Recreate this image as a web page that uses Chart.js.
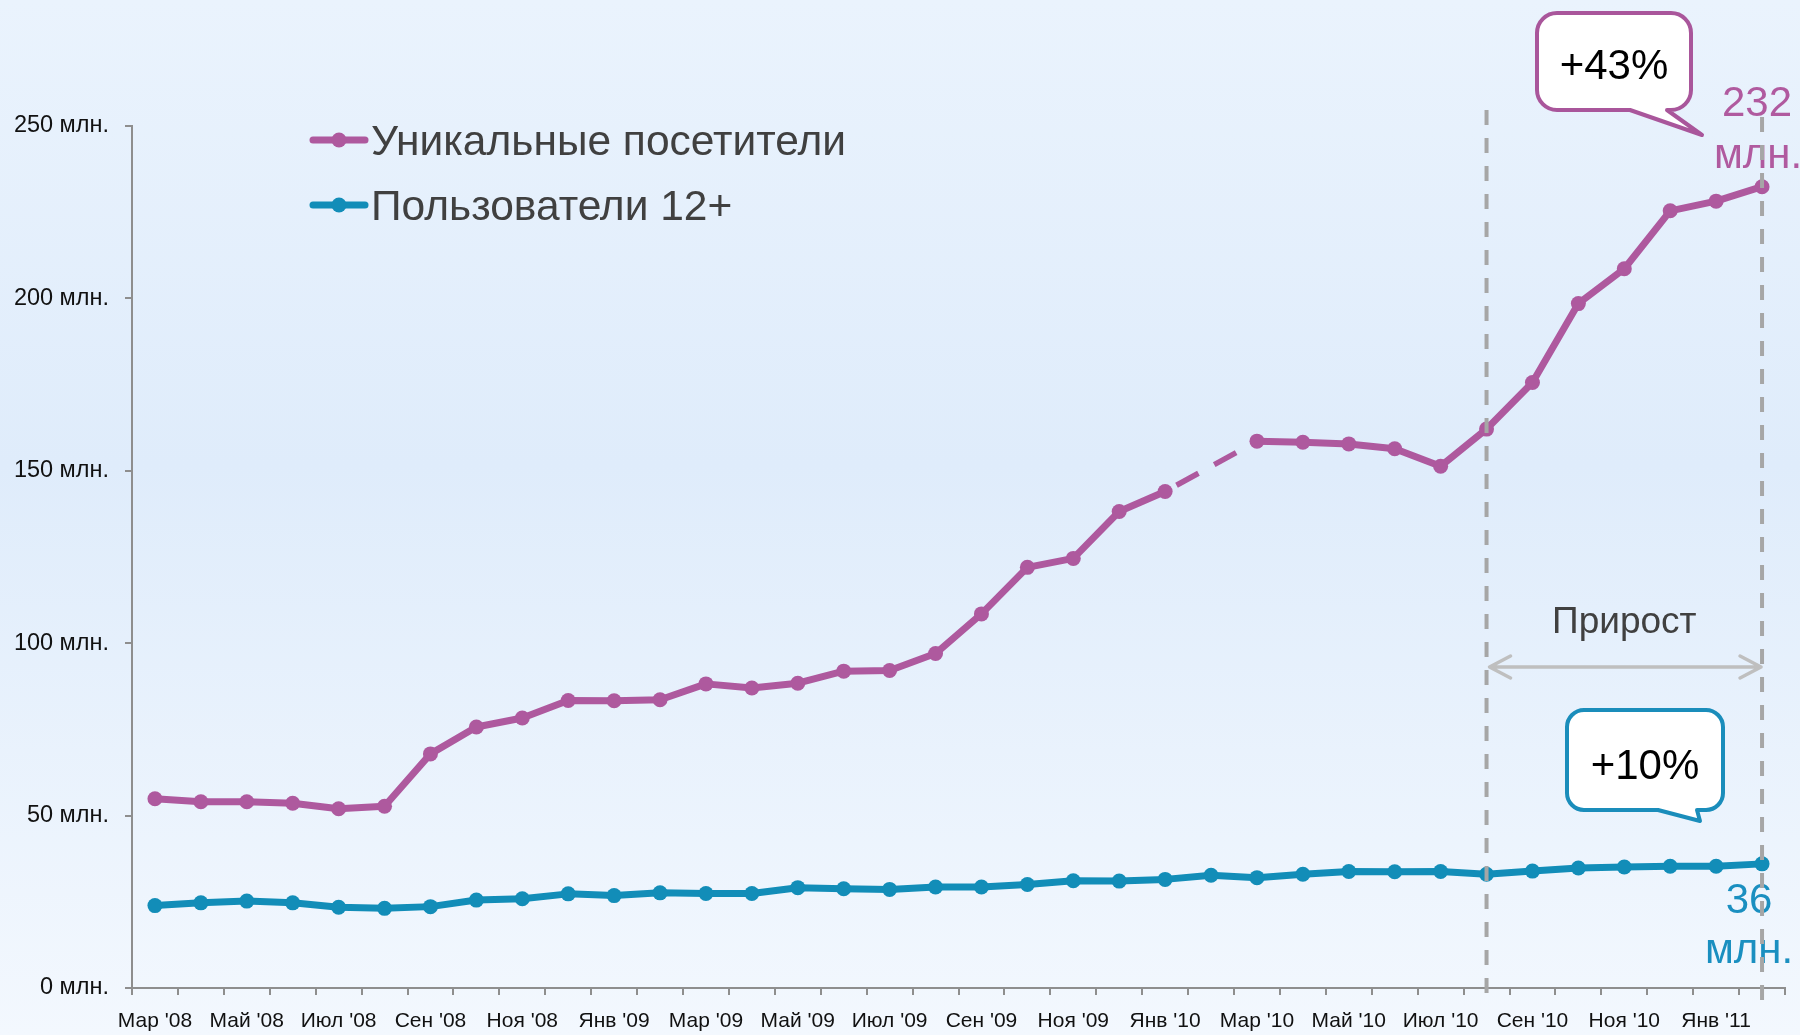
<!DOCTYPE html>
<html>
<head>
<meta charset="utf-8">
<script src="https://cdn.jsdelivr.net/npm/chart.js@4/dist/chart.umd.min.js"></script>
<style>
  html, body { margin: 0; padding: 0; background: #e6f0fc; }
  #wrap { width: 1800px; height: 1035px; }
  canvas { display: block; }
</style>
</head>
<body>
<div id="wrap"><canvas id="c" width="1800" height="1035"></canvas></div>
<script>
// ---- data ----
const categories = [
  "Мар '08","Апр '08","Май '08","Июн '08","Июл '08","Авг '08","Сен '08","Окт '08","Ноя '08","Дек '08",
  "Янв '09","Фев '09","Мар '09","Апр '09","Май '09","Июн '09","Июл '09","Авг '09","Сен '09","Окт '09",
  "Ноя '09","Дек '09","Янв '10","Фев '10","Мар '10","Апр '10","Май '10","Июн '10","Июл '10","Авг '10",
  "Сен '10","Окт '10","Ноя '10","Дек '10","Янв '11","Фев '11"
];
const seriesNames = ["Уникальные посетители", "Пользователи 12+"];
const uniqueVisitors = [
  54.9, 54.0, 54.0, 53.6, 52.0, 52.7, 67.9, 75.7, 78.3, 83.4,
  83.3, 83.6, 88.2, 87.0, 88.4, 91.9, 92.1, 97.0, 108.5, 122.0,
  124.6, 138.2, 144.0, null, 158.6, 158.3, 157.8, 156.4, 151.3, 162.1,
  175.6, 198.5, 208.6, 225.4, 228.2, 232.4
];
const users12plus = [
  23.9, 24.7, 25.2, 24.7, 23.4, 23.1, 23.6, 25.5, 25.9, 27.3,
  26.8, 27.6, 27.4, 27.4, 29.1, 28.8, 28.6, 29.3, 29.3, 30.0,
  31.1, 31.0, 31.5, 32.7, 32.0, 33.0, 33.8, 33.7, 33.8, 33.0,
  33.9, 34.8, 35.1, 35.3, 35.3, 36.0
];
const yTicks = [0, 50, 100, 150, 200, 250];
const yUnit = " млн.";
const growthLabel = "Прирост";
const growthStartIndex = 29;   // Авг '10
const growthEndIndex = 35;     // Фев '11
const calloutTexts = ["+43%", "+10%"];

// ---- styles ----
const FONT = "'Liberation Sans', Arial, sans-serif";
const PURPLE = "#ae599e";
const BLUE = "#128db8";
const AXIS = "#8e8e8e";

const bgPlugin = {
  id: 'bg',
  beforeDraw(chart) {
    const ctx = chart.ctx;
    const g = ctx.createLinearGradient(0, 0, 0, chart.height);
    g.addColorStop(0, '#eaf3fd');
    g.addColorStop(0.45, '#dfecfb');
    g.addColorStop(1, '#f3f8fe');
    ctx.save();
    ctx.fillStyle = g;
    ctx.fillRect(0, 0, chart.width, chart.height);
    ctx.restore();
  }
};

const legendPlugin = {
  id: 'customLegend',
  afterDraw(chart) {
    const ctx = chart.ctx;
    ctx.save();
    chart.data.datasets.forEach((ds, i) => {
      const cy = 140 + i * 65;
      ctx.strokeStyle = ds.borderColor;
      ctx.lineWidth = 7;
      ctx.lineCap = 'round';
      ctx.beginPath();
      ctx.moveTo(313, cy);
      ctx.lineTo(365, cy);
      ctx.stroke();
      ctx.fillStyle = ds.borderColor;
      ctx.beginPath();
      ctx.arc(339, cy, 7.5, 0, Math.PI * 2);
      ctx.fill();
      ctx.fillStyle = '#404040';
      ctx.font = '42.5px ' + FONT;
      ctx.textAlign = 'left';
      ctx.textBaseline = 'alphabetic';
      ctx.fillText(ds.label, 371, cy + 15);
    });
    ctx.restore();
  }
};

function callout(ctx, x1, y1, x2, y2, r, baseRight, baseLeft, tipX, tipY, color) {
  ctx.beginPath();
  ctx.moveTo(x1 + r, y1);
  ctx.lineTo(x2 - r, y1);
  ctx.arcTo(x2, y1, x2, y1 + r, r);
  ctx.lineTo(x2, y2 - r);
  ctx.arcTo(x2, y2, x2 - r, y2, r);
  ctx.lineTo(baseRight, y2);
  ctx.lineTo(tipX, tipY);
  ctx.lineTo(baseLeft, y2);
  ctx.lineTo(x1 + r, y2);
  ctx.arcTo(x1, y2, x1, y2 - r, r);
  ctx.lineTo(x1, y1 + r);
  ctx.arcTo(x1, y1, x1 + r, y1, r);
  ctx.closePath();
  ctx.fillStyle = '#ffffff';
  ctx.fill();
  ctx.lineWidth = 4;
  ctx.strokeStyle = color;
  ctx.lineJoin = 'round';
  ctx.stroke();
}

const annotPlugin = {
  id: 'annot',
  afterDatasetsDraw(chart) {
    const ctx = chart.ctx;
    const xs = chart.scales.x;
    const xA = xs.getPixelForValue(growthStartIndex);
    const xB = xs.getPixelForValue(growthEndIndex);
    ctx.save();

    // callouts
    callout(ctx, 1537, 13, 1691, 110, 20, 1667, 1630, 1702, 135, '#a9569b');
    callout(ctx, 1567, 710, 1723, 810, 17, 1697, 1658, 1700, 821, '#1a8dbb');
    ctx.fillStyle = '#000';
    ctx.font = '42px ' + FONT;
    ctx.textAlign = 'center';
    ctx.textBaseline = 'alphabetic';
    ctx.fillText(calloutTexts[0], 1614, 79);
    ctx.fillText(calloutTexts[1], 1645, 779);

    // end values
    const lastV = uniqueVisitors[uniqueVisitors.length - 1];
    const lastU = users12plus[users12plus.length - 1];
    ctx.font = '42px ' + FONT;
    ctx.fillStyle = '#b05a9f';
    ctx.fillText(String(Math.round(lastV)), 1757, 116);
    ctx.fillText(yUnit.trim(), 1758, 168);
    ctx.fillStyle = '#1a8fc0';
    ctx.fillText(String(Math.round(lastU)), 1749, 913);
    ctx.fillText(yUnit.trim(), 1749, 963);

    // growth label and arrow
    ctx.fillStyle = '#404040';
    ctx.font = '37px ' + FONT;
    ctx.fillText(growthLabel, (xA + xB) / 2, 633);
    ctx.strokeStyle = '#bfbfbf';
    ctx.lineWidth = 3.5;
    ctx.lineCap = 'round';
    ctx.lineJoin = 'round';
    const ay = 667;
    ctx.beginPath();
    ctx.moveTo(xA + 3, ay); ctx.lineTo(xB - 1, ay);
    ctx.moveTo(xA + 24, ay - 11); ctx.lineTo(xA + 3, ay); ctx.lineTo(xA + 24, ay + 11);
    ctx.moveTo(xB - 22, ay - 11); ctx.lineTo(xB - 1, ay); ctx.lineTo(xB - 22, ay + 11);
    ctx.stroke();

    // dashed vertical lines
    ctx.strokeStyle = '#a6a6a6';
    ctx.lineWidth = 4;
    ctx.lineCap = 'butt';
    ctx.setLineDash([15, 13]);
    ctx.beginPath();
    ctx.moveTo(xA, 110); ctx.lineTo(xA, 1000);
    ctx.moveTo(xB, 117); ctx.lineTo(xB, 1000);
    ctx.stroke();
    ctx.restore();
  }
};

const gapStyle = (ctx, v) => (ctx.p0.skip || ctx.p1.skip) ? v : undefined;

new Chart(document.getElementById('c'), {
  type: 'line',
  data: {
    labels: categories,
    datasets: [
      {
        label: seriesNames[0],
        data: uniqueVisitors,
        borderColor: PURPLE,
        backgroundColor: PURPLE,
        borderWidth: 7,
        pointRadius: 7.5,
        pointBorderWidth: 0,
        pointBackgroundColor: PURPLE,
        tension: 0,
        spanGaps: true,
        borderJoinStyle: 'round',
        segment: {
          borderDash: ctx => gapStyle(ctx, [25, 18]),
          borderDashOffset: ctx => gapStyle(ctx, 30),
          borderWidth: ctx => gapStyle(ctx, 5.5)
        }
      },
      {
        label: seriesNames[1],
        data: users12plus,
        borderColor: BLUE,
        backgroundColor: BLUE,
        borderWidth: 7,
        pointRadius: 7.5,
        pointBorderWidth: 0,
        pointBackgroundColor: BLUE,
        tension: 0,
        borderJoinStyle: 'round'
      }
    ]
  },
  options: {
    responsive: false,
    animation: false,
    devicePixelRatio: 1,
    layout: { padding: { left: 0, right: 15, top: 126, bottom: 0 } },
    plugins: { legend: { display: false }, tooltip: { enabled: false } },
    scales: {
      x: {
        type: 'category',
        offset: true,
        grid: { offset: true, drawOnChartArea: false, drawTicks: true, tickLength: 7, color: AXIS, lineWidth: 2 },
        border: { color: AXIS, width: 2 },
        ticks: {
          autoSkip: false, maxRotation: 0, minRotation: 0,
          color: '#111', padding: 14,
          font: { family: FONT, size: 21 },
          callback: (v, i) => (i % 2 === 0 ? categories[i] : '')
        },
        afterFit: s => { s.height = 47; }
      },
      y: {
        min: 0, max: 250,
        afterBuildTicks: s => { s.ticks = yTicks.map(v => ({ value: v })); },
        grid: { drawOnChartArea: false, drawTicks: true, tickLength: 7, color: AXIS, lineWidth: 2 },
        border: { color: AXIS, width: 2 },
        ticks: {
          color: '#111', padding: 16,
          font: { family: FONT, size: 23.5 },
          callback: v => v + yUnit
        },
        afterFit: s => { s.width = 132; }
      }
    }
  },
  plugins: [bgPlugin, legendPlugin, annotPlugin]
});
</script>
</body>
</html>
